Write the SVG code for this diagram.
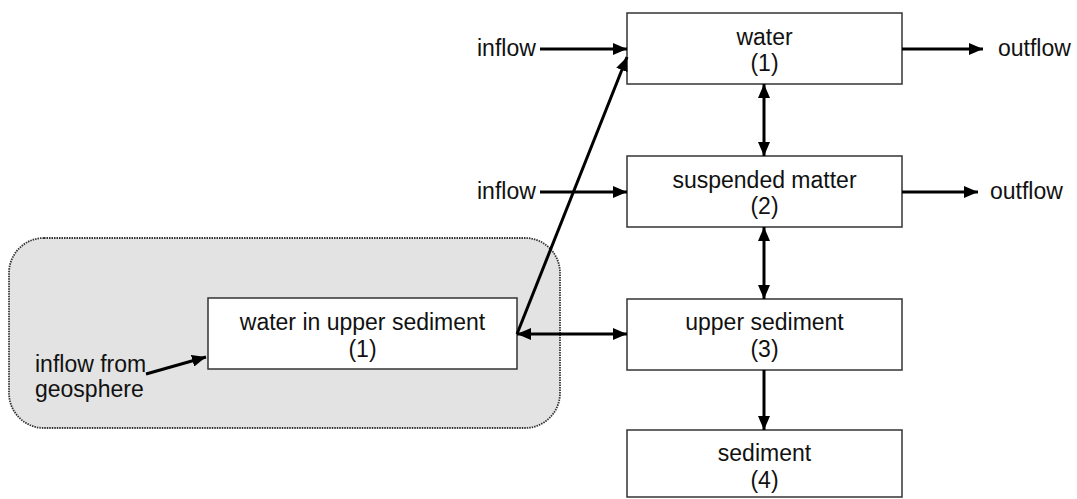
<svg xmlns="http://www.w3.org/2000/svg" width="1077" height="499" viewBox="0 0 1077 499">
<defs>
<marker id="ah" viewBox="0 0 14 12" markerUnits="userSpaceOnUse" markerWidth="14" markerHeight="12" refX="14" refY="6" orient="auto-start-reverse">
<path d="M0,0 L14,6 L0,12 z" fill="#000"/>
</marker>
<style>
.box{fill:#fff;stroke:#333;stroke-width:1.5}
.t{font-family:"Liberation Sans",Arial,sans-serif;font-size:23px;fill:#111}
.c{text-anchor:middle}
.ln{stroke:#000;stroke-width:3;fill:none}
</style>
</defs>
<rect id="compartment" x="9" y="238" width="551" height="190" rx="35" ry="35" fill="#e2e3e2" stroke="#333" stroke-width="1.8" stroke-dasharray="1.5,1"/>
<g id="water">
<rect class="box" x="627" y="13" width="275" height="71"/>
<text class="t c" x="764.5" y="45">water</text>
<text class="t c" x="764.5" y="71">(1)</text>
</g>
<g id="suspended">
<rect class="box" x="627" y="156" width="275" height="71"/>
<text class="t c" x="764.5" y="188">suspended matter</text>
<text class="t c" x="764.5" y="214">(2)</text>
</g>
<g id="upper">
<rect class="box" x="627" y="299" width="275" height="71"/>
<text class="t c" x="764.5" y="330">upper sediment</text>
<text class="t c" x="764.5" y="357">(3)</text>
</g>
<g id="sediment">
<rect class="box" x="627" y="430" width="275" height="67"/>
<text class="t c" x="764.5" y="461">sediment</text>
<text class="t c" x="764.5" y="488">(4)</text>
</g>
<g id="pore">
<rect class="box" x="208" y="298" width="309" height="71"/>
<text class="t c" x="362.5" y="330">water in upper sediment</text>
<text class="t c" x="362.5" y="357">(1)</text>
</g>
<g id="labels">
<text class="t" x="477" y="56">inflow</text>
<text class="t" x="477" y="199">inflow</text>
<text class="t" x="998" y="56">outflow</text>
<text class="t" x="990" y="199">outflow</text>
<text class="t" x="35" y="372">inflow from</text>
<text class="t" x="35" y="397">geosphere</text>
</g>
<g id="connectors">
<line class="ln" x1="540" y1="49" x2="627" y2="49" marker-end="url(#ah)"/>
<line class="ln" x1="540" y1="192" x2="627" y2="192" marker-end="url(#ah)"/>
<line class="ln" x1="902" y1="49" x2="983" y2="49" marker-end="url(#ah)"/>
<line class="ln" x1="902" y1="192" x2="978" y2="192" marker-end="url(#ah)"/>
<line class="ln" x1="764" y1="84" x2="764" y2="156" marker-start="url(#ah)" marker-end="url(#ah)"/>
<line class="ln" x1="764" y1="227" x2="764" y2="299" marker-start="url(#ah)" marker-end="url(#ah)"/>
<line class="ln" x1="764" y1="370" x2="764" y2="430" marker-end="url(#ah)"/>
<line class="ln" x1="517" y1="334" x2="627" y2="334" marker-start="url(#ah)" marker-end="url(#ah)"/>
<line class="ln" x1="517" y1="334" x2="627" y2="57" marker-end="url(#ah)"/>
<line class="ln" x1="146" y1="374" x2="206" y2="357" marker-end="url(#ah)"/>
</g>
</svg>
